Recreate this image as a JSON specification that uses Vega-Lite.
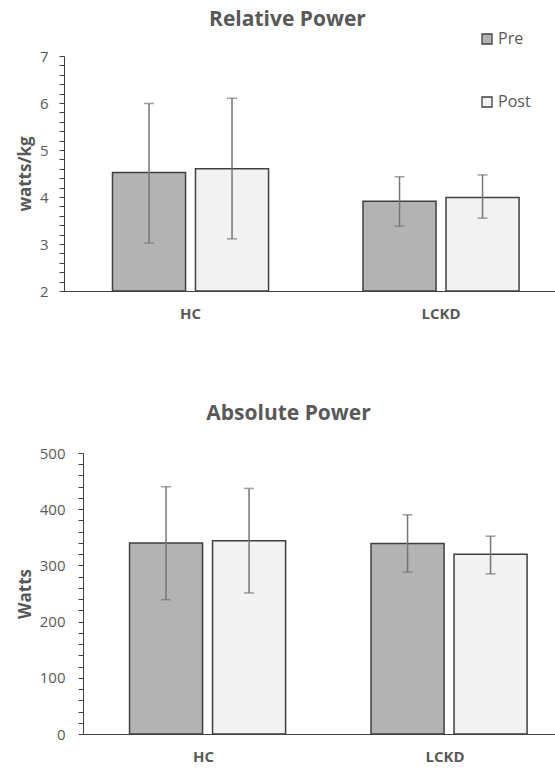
{
  "$schema": "https://vega.github.io/schema/vega-lite/v6.json",
  "padding": {"left": 16, "top": 9, "right": 0, "bottom": 0},
  "background": "white",
  "config": {
    "view": {"stroke": null},
    "font": "Open Sans",
    "axis": {"grid": false, "domainColor": "#404040", "tickColor": "#404040", "labelColor": "#595959", "titleColor": "#595959", "labelFont": "Open Sans", "titleFont": "Open Sans"}
  },
  "columns": 1,
  "align": "none",
  "spacing": 82,
  "resolve": {"scale": {"color": "independent"}, "legend": {"color": "independent"}},
  "concat": [
    {
      "width": 473,
      "height": 235,
      "title": {"text": "Relative Power", "font": "Open Sans", "fontSize": 21, "fontWeight": "bold", "color": "#595959", "offset": 1, "anchor": "middle", "dx": -32},
      "data": {"values": [
        {"group": "HC", "time": "Pre", "mean": 4.52, "lo": 3.02, "hi": 5.99},
        {"group": "HC", "time": "Post", "mean": 4.60, "lo": 3.11, "hi": 6.10},
        {"group": "LCKD", "time": "Pre", "mean": 3.91, "lo": 3.38, "hi": 4.43},
        {"group": "LCKD", "time": "Post", "mean": 3.99, "lo": 3.55, "hi": 4.47}
      ]},
      "encoding": {
        "x": {"field": "group", "type": "nominal", "sort": ["HC", "LCKD"],
          "scale": {"range": [-19, 473], "paddingInner": 0.1, "paddingOuter": 0.032, "align": 0.86},
          "axis": {"title": null, "ticks": false, "labelAngle": 0, "labelFontSize": 15, "labelFontWeight": "bold", "labelPadding": 15, "domainWidth": 1.2}},
        "xOffset": {"field": "time", "type": "nominal", "sort": ["Pre", "Post"],
          "scale": {"paddingInner": 0.12, "paddingOuter": 0.418}}
      },
      "layer": [
        {
          "mark": {"type": "bar", "stroke": "#404040", "strokeWidth": 1.5},
          "encoding": {
            "y": {"field": "mean", "type": "quantitative",
              "scale": {"domain": [2, 7], "nice": false, "zero": false},
              "axis": {"offset": 19, "title": "watts/kg", "titleFontSize": 17, "titleFontWeight": "bold", "titlePadding": 5,
                "values": [2, 2.2, 2.4, 2.6, 2.8, 3, 3.2, 3.4, 3.6, 3.8, 4, 4.2, 4.4, 4.6, 4.8, 5, 5.2, 5.4, 5.6, 5.8, 6, 6.2, 6.4, 6.6, 6.8, 7],
                "tickCount": 100,
                "labelExpr": "datum.value % 1 == 0 ? format(datum.value, 'd') : ''",
                "labelOverlap": false, "labelBound": false, "labelFontSize": 15, "labelPadding": 11, "tickSize": 5}},
            "y2": {"datum": 2},
            "color": {"field": "time", "type": "nominal", "sort": ["Pre", "Post"],
              "scale": {"domain": ["Pre", "Post"], "range": ["#b3b3b3", "#f2f2f2"]},
              "legend": {"title": null, "orient": "none", "legendX": 396, "legendY": -25, "direction": "vertical",
                "symbolType": "square", "symbolSize": 100, "symbolStrokeColor": "#404040", "symbolStrokeWidth": 1.3,
                "labelFont": "Open Sans", "labelFontSize": 16, "labelColor": "#595959", "labelOffset": 3, "rowPadding": 47, "padding": 0}}
          }
        },
        {
          "mark": {"type": "rule", "color": "#767676", "strokeWidth": 1.5},
          "encoding": {"y": {"field": "lo", "type": "quantitative"}, "y2": {"field": "hi"}}
        },
        {
          "mark": {"type": "tick", "orient": "horizontal", "size": 10, "thickness": 1.5, "color": "#767676"},
          "encoding": {"y": {"field": "lo", "type": "quantitative"}}
        },
        {
          "mark": {"type": "tick", "orient": "horizontal", "size": 10, "thickness": 1.5, "color": "#767676"},
          "encoding": {"y": {"field": "hi", "type": "quantitative"}}
        }
      ]
    },
    {
      "width": 473,
      "height": 281,
      "title": {"text": "Absolute Power", "font": "Open Sans", "fontSize": 21, "fontWeight": "bold", "color": "#595959", "offset": 22, "anchor": "middle", "dx": -31},
      "data": {"values": [
        {"group": "HC", "time": "Pre", "mean": 340, "lo": 239, "hi": 440},
        {"group": "HC", "time": "Post", "mean": 344, "lo": 251, "hi": 437},
        {"group": "LCKD", "time": "Pre", "mean": 339, "lo": 288, "hi": 390},
        {"group": "LCKD", "time": "Post", "mean": 320, "lo": 285, "hi": 352}
      ]},
      "encoding": {
        "x": {"field": "group", "type": "nominal", "sort": ["HC", "LCKD"],
          "scale": {"paddingInner": 0.1, "paddingOuter": 0.0293, "align": 0.836},
          "axis": {"title": null, "ticks": false, "labelAngle": 0, "labelFontSize": 15, "labelFontWeight": "bold", "labelPadding": 15, "domainWidth": 1.2}},
        "xOffset": {"field": "time", "type": "nominal", "sort": ["Pre", "Post"],
          "scale": {"paddingInner": 0.1125, "paddingOuter": 0.4148}}
      },
      "layer": [
        {
          "mark": {"type": "bar", "stroke": "#404040", "strokeWidth": 1.5},
          "encoding": {
            "y": {"field": "mean", "type": "quantitative",
              "scale": {"domain": [0, 500], "nice": false},
              "axis": {"title": "Watts", "titleFontSize": 17, "titleFontWeight": "bold", "titlePadding": 5,
                "values": [0, 20, 40, 60, 80, 100, 120, 140, 160, 180, 200, 220, 240, 260, 280, 300, 320, 340, 360, 380, 400, 420, 440, 460, 480, 500],
                "tickCount": 100,
                "labelExpr": "datum.value % 100 == 0 ? format(datum.value, 'd') : ''",
                "labelOverlap": false, "labelBound": false, "labelFontSize": 15, "labelPadding": 13, "tickSize": 5}},
            "y2": {"datum": 0},
            "color": {"field": "time", "type": "nominal", "sort": ["Pre", "Post"],
              "scale": {"domain": ["Pre", "Post"], "range": ["#b3b3b3", "#f2f2f2"]},
              "legend": null}
          }
        },
        {
          "mark": {"type": "rule", "color": "#767676", "strokeWidth": 1.5},
          "encoding": {"y": {"field": "lo", "type": "quantitative"}, "y2": {"field": "hi"}}
        },
        {
          "mark": {"type": "tick", "orient": "horizontal", "size": 10, "thickness": 1.5, "color": "#767676"},
          "encoding": {"y": {"field": "lo", "type": "quantitative"}}
        },
        {
          "mark": {"type": "tick", "orient": "horizontal", "size": 10, "thickness": 1.5, "color": "#767676"},
          "encoding": {"y": {"field": "hi", "type": "quantitative"}}
        }
      ]
    }
  ]
}
